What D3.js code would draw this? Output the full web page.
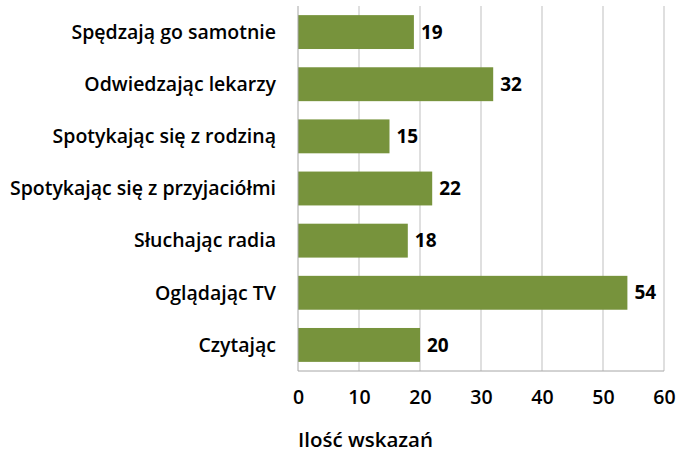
<!DOCTYPE html>
<html>
<head>
<meta charset="utf-8">
<script src="https://cdn.jsdelivr.net/npm/d3@7"></script>
<style>
  body { margin: 0; background: #fff; }
  text { font-family: "Open Sans", sans-serif; fill: #000; }
</style>
</head>
<body>
<svg id="chart"></svg>
<script>
const width = 691;
const height = 454;
const margin = { top: 6, right: 27, bottom: 83, left: 298 };

const categories = [
    "Spędzają go samotnie",
    "Odwiedzając lekarzy",
    "Spotykając się z rodziną",
    "Spotykając się z przyjaciółmi",
    "Słuchając radia",
    "Oglądając TV",
    "Czytając"
];
const values = [19, 32, 15, 22, 18, 54, 20];
const xTicks = [0, 10, 20, 30, 40, 50, 60];
const axisTitle = "Ilość wskazań";

const data = categories.map((c, i) => ({ name: c, value: values[i] }));

const svg = d3.select("#chart").attr("width", width).attr("height", height);

const x = d3.scaleLinear()
    .domain([0, 60])
    .range([margin.left, width - margin.right]);

const y = d3.scaleBand()
    .domain(categories)
    .range([margin.top, height - margin.bottom])
    .paddingInner(0.35)
    .paddingOuter(0.175);

// gridlines
svg.append("g")
    .selectAll("line")
    .data(xTicks.slice(1))
    .enter().append("line")
    .attr("x1", d => x(d))
    .attr("x2", d => x(d))
    .attr("y1", margin.top)
    .attr("y2", height - margin.bottom)
    .attr("stroke", "#bfbfbf")
    .attr("stroke-width", 1);

// bars
svg.append("g")
    .selectAll("rect")
    .data(data)
    .enter().append("rect")
    .attr("x", x(0))
    .attr("y", d => y(d.name))
    .attr("width", d => x(d.value) - x(0))
    .attr("height", y.bandwidth())
    .attr("fill", "#77933c");

// axis lines
svg.append("line")
    .attr("x1", x(0)).attr("x2", x(0))
    .attr("y1", margin.top).attr("y2", height - margin.bottom)
    .attr("stroke", "#a6a6a6");
svg.append("line")
    .attr("x1", x(0)).attr("x2", x(60))
    .attr("y1", height - margin.bottom).attr("y2", height - margin.bottom)
    .attr("stroke", "#a6a6a6");

// x tick labels
const xAxis = svg.append("g")
    .attr("transform", `translate(0,${height - margin.bottom})`)
    .call(d3.axisBottom(x).tickValues(xTicks).tickSize(0).tickPadding(19));
xAxis.select(".domain").remove();
xAxis.selectAll("text")
    .style("font-family", "'Open Sans', sans-serif")
    .style("font-size", "19.5px")
    .style("font-weight", 600)
    .attr("fill", "#000");

// category labels
svg.append("g")
    .selectAll("text")
    .data(data)
    .enter().append("text")
    .attr("x", 276)
    .attr("y", d => y(d.name) + y.bandwidth() / 2)
    .attr("dy", "0.35em")
    .attr("text-anchor", "end")
    .style("font-size", "19.5px")
    .style("font-weight", 600)
    .text(d => d.name);

// value labels
svg.append("g")
    .selectAll("text")
    .data(data)
    .enter().append("text")
    .attr("x", d => x(d.value) + 7)
    .attr("y", d => y(d.name) + y.bandwidth() / 2)
    .attr("dy", "0.35em")
    .style("font-size", "19px")
    .style("font-weight", 700)
    .text(d => d.value);

// axis title
svg.append("text")
    .attr("x", x(0))
    .attr("y", 447)
    .style("font-size", "20.5px")
    .style("font-weight", 600)
    .text(axisTitle);
</script>
</body>
</html>
